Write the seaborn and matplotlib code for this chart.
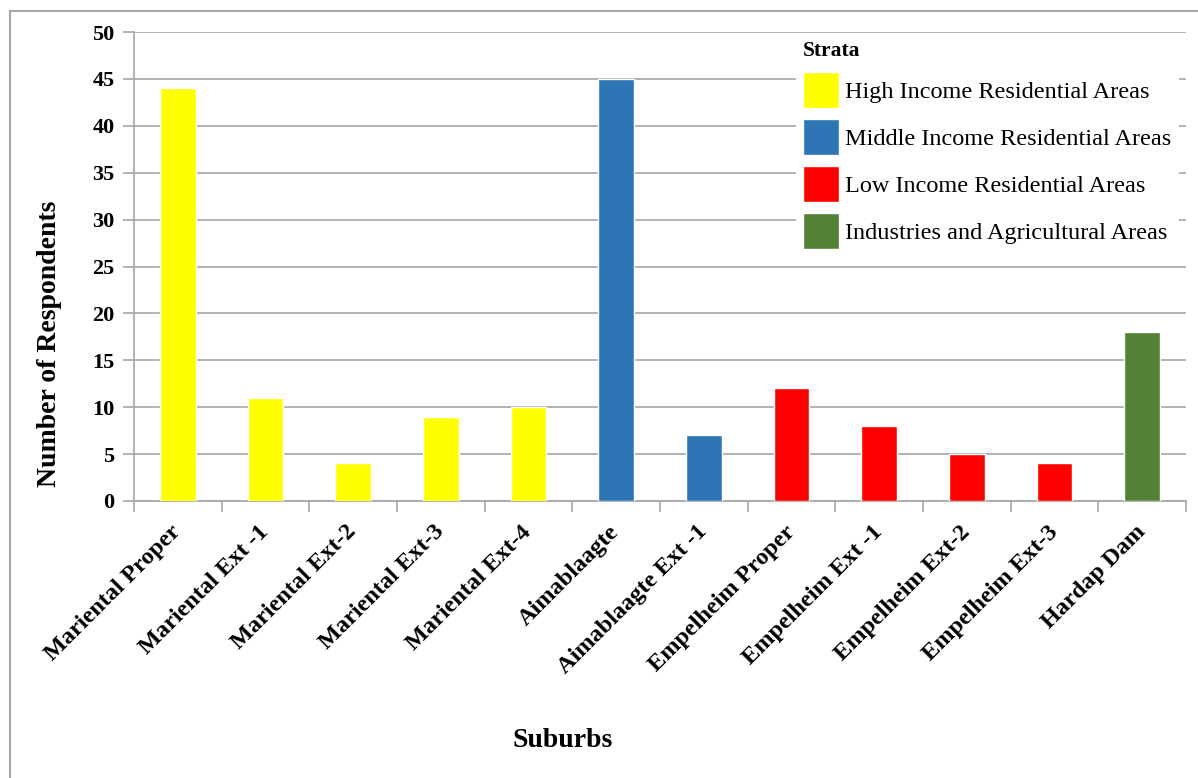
import matplotlib
matplotlib.use("Agg")
import matplotlib.pyplot as plt
import seaborn as sns
import pandas as pd
from matplotlib.patches import Rectangle

suburbs = ["Mariental Proper", "Mariental Ext -1", "Mariental Ext-2", "Mariental Ext-3",
           "Mariental Ext-4", "Aimablaagte", "Aimablaagte Ext -1", "Empelheim Proper",
           "Empelheim Ext -1", "Empelheim Ext-2", "Empelheim Ext-3", "Hardap Dam"]
respondents = [44, 11, 4, 9, 10, 45, 7, 12, 8, 5, 4, 18]
strata = ["High Income Residential Areas"] * 5 + ["Middle Income Residential Areas"] * 2 + \
         ["Low Income Residential Areas"] * 4 + ["Industries and Agricultural Areas"]
strata_order = ["High Income Residential Areas", "Middle Income Residential Areas",
                "Low Income Residential Areas", "Industries and Agricultural Areas"]
strata_colors = ["#FFFF00", "#2E75B6", "#FF0000", "#548235"]

df = pd.DataFrame({"Suburb": suburbs, "Respondents": respondents, "Strata": strata})

sns.set_theme(style="white")
plt.rcParams["font.family"] = ["Liberation Serif", "DejaVu Serif"]
plt.rcParams["text.color"] = "black"
plt.rcParams["axes.labelcolor"] = "black"
plt.rcParams["xtick.color"] = "black"
plt.rcParams["ytick.color"] = "black"

fig = plt.figure(figsize=(11.98, 7.78), dpi=100)
fig.patch.set_facecolor("white")
fig.patches.append(Rectangle((10 / 1198, -0.1), 1.2, 1 - 11 / 778 + 0.1,
                             transform=fig.transFigure, fill=False,
                             edgecolor="#A6A6A6", linewidth=1.5, zorder=0))

ax = fig.add_axes([134 / 1198, 1 - 501 / 778, (1186 - 134) / 1198, (501 - 32) / 778])
sns.barplot(data=df, x="Suburb", y="Respondents", hue="Strata", hue_order=strata_order,
            palette=dict(zip(strata_order, strata_colors)), dodge=False, width=0.41,
            saturation=1, ax=ax, zorder=3)

ax.set_ylim(0, 50)
ax.set_xlim(-0.5, len(suburbs) - 0.5)
ax.set_yticks(range(0, 51, 5))
ax.grid(axis="y", color="#A6A6A6", linewidth=1.2, zorder=0)
ax.set_axisbelow(True)
for s in ["top", "right"]:
    ax.spines[s].set_visible(False)
for s in ["left", "bottom"]:
    ax.spines[s].set_color("#A6A6A6")
    ax.spines[s].set_linewidth(1.2)

ax.tick_params(axis="y", which="major", length=8, color="#A6A6A6", width=1.2,
               labelsize=16, pad=6, left=True, labelcolor="black")
ax.tick_params(axis="x", which="major", length=0, pad=20, labelcolor="black")
ax.set_xticks([i + 0.5 for i in range(-1, len(suburbs))], minor=True)
ax.tick_params(axis="x", which="minor", length=8, color="#A6A6A6", width=1.2, bottom=True)
for lab in ax.get_yticklabels():
    lab.set_fontweight("bold")
ax.set_xticks(range(len(suburbs)))
ax.set_xticklabels(suburbs, rotation=45, ha="right", va="center", rotation_mode="anchor",
                   fontweight="bold", fontsize=17.5)

ax.set_ylabel("Number of Respondents", fontsize=20, fontweight="bold")
ax.yaxis.set_label_coords((62 - 134) / 1052, (501 - 344) / 469)
ax.set_xlabel("Suburbs", fontsize=20, fontweight="bold")
ax.xaxis.set_label_coords((563 - 134) / 1052, -(728 - 501) / 469)

handles, labels = ax.get_legend_handles_labels()
leg = ax.legend(handles, labels, title="Strata", loc="upper left",
                bbox_to_anchor=((796 - 134) / 1052, 1 - (34 - 32) / 469),
                borderaxespad=0,
                frameon=True, facecolor="white", edgecolor="none", framealpha=1,
                fontsize=17.5, handlelength=1.48, handleheight=1.9, handletextpad=0.25,
                labelspacing=0.45, borderpad=0.3, alignment="left")
leg.get_title().set_fontweight("bold")
leg.get_title().set_fontsize(15.5)
leg.set_zorder(5)

fig.savefig("out.png", dpi=100)
